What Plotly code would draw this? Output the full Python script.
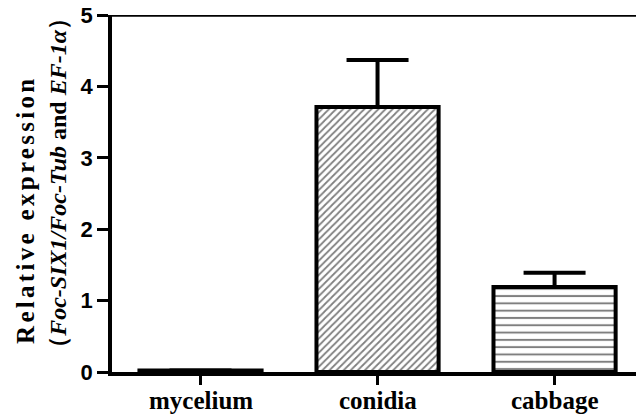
import plotly.graph_objects as go

categories = ["mycelium", "conidia", "cabbage"]
values = [0.02, 3.71, 1.19]
errors = [0.0, 0.66, 0.20]
patterns = ["", "/", "-"]
y_ticks = [0, 1, 2, 3, 4, 5]
y_title_lines = [
    "<b><span style=\"letter-spacing:3.3px\">Relative expression</span></b>",
    "<b>（<i>Foc-SIX1/Foc-Tub</i> and <i>EF-1α</i>）</b>",
]

serif = "Liberation Serif, Times New Roman, serif"
sans = "Liberation Sans, Arial, sans-serif"

fig = go.Figure()
fig.add_trace(go.Bar(
    x=categories, y=values,
    width=0.69,
    marker=dict(
        color="white",
        line=dict(color="black", width=4),
        pattern=dict(shape=patterns, fgcolor="black", bgcolor="white",
                     size=[8, 5, 7.3], solidity=[0.3, 0.35, 0.27]),
    ),
    error_y=dict(type="data", symmetric=False, array=errors,
                 arrayminus=[0, 0, 0], color="black", thickness=4, width=31),
    cliponaxis=False,
))

fig.add_shape(type="line", xref="x domain", yref="y", x0=0, x1=1, y0=5, y1=5,
              line=dict(color="black", width=3.5))

# x tick labels as annotations (placed via the category axis)
for c in categories:
    fig.add_annotation(x=c, y=0, xref="x", yref="y", text="<b>" + c + "</b>",
                       showarrow=False, yanchor="middle", yshift=-28,
                       font=dict(family=serif, size=25, color="black"))

# y-axis title, two rotated lines
fig.add_annotation(text=y_title_lines[0], xref="paper", yref="paper", x=0, y=0.454,
                   xanchor="center", yanchor="middle", xshift=-86, textangle=-90,
                   showarrow=False, font=dict(family=serif, size=25, color="black"))
fig.add_annotation(text=y_title_lines[1], xref="paper", yref="paper", x=0, y=0.530,
                   xanchor="center", yanchor="middle", xshift=-54, textangle=-90,
                   showarrow=False, font=dict(family=serif, size=24, color="black"))

fig.update_layout(
    width=636, height=415,
    margin=dict(l=112, r=0, t=15, b=43, autoexpand=False),
    plot_bgcolor="white", paper_bgcolor="white",
    showlegend=False,
)
fig.update_xaxes(
    range=[-0.5, 2.46],
    automargin=False,
    showline=True, linecolor="black", linewidth=3.5,
    ticks="outside", ticklen=9, tickwidth=3, tickcolor="black",
    showticklabels=False,
    showgrid=False, zeroline=False,
)
fig.update_yaxes(
    range=[0, 5],
    automargin=False,
    tickvals=y_ticks,
    showline=True, linecolor="black", linewidth=3.5,
    ticks="outside", ticklen=11, tickwidth=3, tickcolor="black",
    tickfont=dict(family=sans, size=22, color="black", weight="bold"),
    showgrid=False, zeroline=False,
)

fig.write_html("out.html", config={"displayModeBar": False},
               post_script="document.body.style.margin='0';document.body.style.overflow='hidden';")
